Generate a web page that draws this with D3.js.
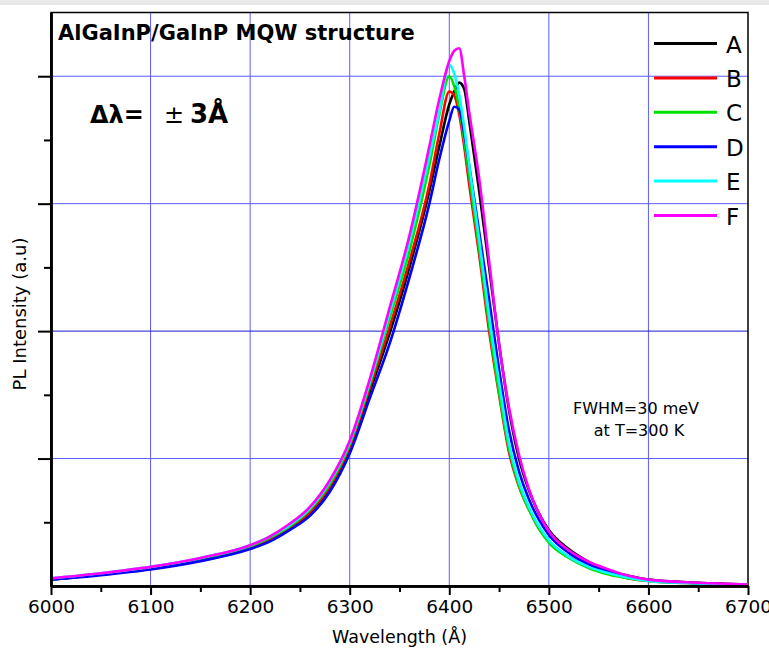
<!DOCTYPE html>
<html>
<head>
<meta charset="utf-8">
<script src="https://cdn.jsdelivr.net/npm/d3@7"></script>
<style>
  body { margin: 0; background: #fff; }
  svg { display: block; font-family: "DejaVu Sans", Verdana, sans-serif; }
</style>
</head>
<body>
<svg width="769" height="649"></svg>
<script>
// wavelength grid (Angstrom) shared by all spectra
var wavelength = [6000, 6050, 6100, 6150, 6200, 6220, 6240, 6260, 6280, 6300, 6320, 6340, 6360, 6380, 6390, 6400, 6405, 6410, 6415, 6420, 6430, 6440, 6450, 6460, 6470, 6480, 6490, 6500, 6520, 6540, 6560, 6580, 6600, 6650, 6700];

var seriesA = [0.05, 0.09, 0.135, 0.2, 0.295, 0.36, 0.45, 0.57, 0.77, 1.07, 1.52, 1.98, 2.5, 3.1, 3.45, 3.78, 3.88, 3.95, 3.9, 3.65, 3.1, 2.5, 1.9, 1.38, 1.0, 0.75, 0.57, 0.44, 0.29, 0.19, 0.12, 0.08, 0.05, 0.025, 0.012];
var seriesB = [0.055, 0.09, 0.14, 0.21, 0.30, 0.37, 0.46, 0.58, 0.78, 1.09, 1.55, 2.03, 2.55, 3.15, 3.55, 3.88, 3.85, 3.7, 3.45, 3.15, 2.6, 2.0, 1.5, 1.05, 0.78, 0.6, 0.45, 0.35, 0.23, 0.15, 0.1, 0.06, 0.04, 0.02, 0.01];
var seriesC = [0.055, 0.095, 0.14, 0.21, 0.31, 0.38, 0.47, 0.6, 0.8, 1.11, 1.58, 2.1, 2.63, 3.3, 3.7, 4.0, 3.92, 3.75, 3.5, 3.22, 2.65, 2.05, 1.52, 1.08, 0.79, 0.6, 0.45, 0.34, 0.22, 0.14, 0.09, 0.06, 0.04, 0.02, 0.01];
var seriesD = [0.05, 0.085, 0.13, 0.195, 0.29, 0.35, 0.44, 0.55, 0.74, 1.04, 1.47, 1.9, 2.42, 3.0, 3.35, 3.65, 3.76, 3.74, 3.55, 3.3, 2.78, 2.25, 1.7, 1.22, 0.9, 0.68, 0.52, 0.4, 0.26, 0.17, 0.11, 0.07, 0.045, 0.022, 0.011];
var seriesE = [0.06, 0.10, 0.15, 0.22, 0.32, 0.39, 0.48, 0.61, 0.82, 1.13, 1.6, 2.14, 2.7, 3.37, 3.72, 4.09, 4.02, 3.85, 3.6, 3.3, 2.72, 2.12, 1.6, 1.12, 0.82, 0.62, 0.47, 0.36, 0.23, 0.15, 0.1, 0.065, 0.04, 0.02, 0.01];
var seriesF = [0.06, 0.10, 0.15, 0.22, 0.32, 0.39, 0.49, 0.62, 0.83, 1.14, 1.62, 2.18, 2.75, 3.45, 3.82, 4.12, 4.2, 4.22, 4.0, 3.72, 3.2, 2.55, 1.9, 1.4, 1.03, 0.76, 0.57, 0.43, 0.28, 0.19, 0.13, 0.08, 0.05, 0.025, 0.012];

var labels = ['A', 'B', 'C', 'D', 'E', 'F'];
var colors = ['#000000', '#ff0000', '#00e000', '#0000ff', '#00ffff', '#ff00ff'];
var xTicks = [6000, 6100, 6200, 6300, 6400, 6500, 6600, 6700];

(function() {
  var series = [seriesA, seriesB, seriesC, seriesD, seriesE, seriesF].map(function(vals, i) {
    return { name: labels[i], color: colors[i], points: vals.map(function(v, j) { return [wavelength[j], v]; }) };
  });

  var svg = d3.select('svg');
  var mLeft = 51, mRight = 748, mTop = 12.5, mBottom = 586;

  var x = d3.scaleLinear().domain([6000, 6700]).range([mLeft, mRight]);
  var y = d3.scaleLinear().domain([0, 4.5]).range([mBottom, mTop]);

  // faint grey band at the very top of the scan
  svg.append('rect').attr('x', 0).attr('y', 0).attr('width', 769).attr('height', 5).attr('fill', '#e9e9e9');

  // grid
  svg.append('g').selectAll('line').data([6100, 6200, 6300, 6400, 6500, 6600]).enter().append('line')
    .attr('x1', d => x(d)).attr('x2', d => x(d)).attr('y1', mTop).attr('y2', mBottom)
    .attr('stroke', '#5c5cff').attr('stroke-width', 1);
  svg.append('g').selectAll('line').data([1, 2, 3, 4]).enter().append('line')
    .attr('x1', mLeft).attr('x2', mRight).attr('y1', d => y(d)).attr('y2', d => y(d))
    .attr('stroke', d => d === 2 ? '#1a1ad0' : '#5c5cff').attr('stroke-width', 1);

  // frame
  svg.append('rect').attr('x', mLeft).attr('y', mTop).attr('width', mRight - mLeft).attr('height', mBottom - mTop)
    .attr('fill', 'none').attr('stroke', '#000').attr('stroke-width', 1.5);

  // curves
  var line = d3.line().x(d => x(d[0])).y(d => y(d[1])).curve(d3.curveMonotoneX);
  svg.append('g').selectAll('path').data(series).enter().append('path')
    .attr('d', d => line(d.points))
    .attr('fill', 'none').attr('stroke', d => d.color).attr('stroke-width', 2.6);

  // axes
  var xAxis = svg.append('g').attr('transform', 'translate(0,' + mBottom + ')')
    .call(d3.axisBottom(x).tickValues(xTicks).tickSize(9).tickSizeOuter(0).tickPadding(5).tickFormat(d3.format('d')));
  svg.append('g').attr('transform', 'translate(0,' + mBottom + ')')
    .call(d3.axisBottom(x).tickValues(d3.range(6050, 6700, 100)).tickSize(6).tickSizeOuter(0).tickFormat(''));
  svg.append('g').attr('transform', 'translate(' + mLeft + ',0)')
    .call(d3.axisLeft(y).tickValues([1, 2, 3, 4]).tickSize(13).tickSizeOuter(0).tickFormat(''));
  svg.append('g').attr('transform', 'translate(' + mLeft + ',0)')
    .call(d3.axisLeft(y).tickValues([0.5, 1.5, 2.5, 3.5]).tickSize(7).tickSizeOuter(0).tickFormat(''));

  svg.selectAll('.domain').attr('stroke', '#000').attr('stroke-width', 2.5);
  svg.selectAll('.tick line').attr('stroke', '#000').attr('stroke-width', 2);
  xAxis.selectAll('text').attr('font-size', 18.5).attr('fill', '#000')
    .style('font-family', '"DejaVu Sans", sans-serif');

  // axis titles
  svg.append('text').attr('x', (mLeft + mRight) / 2).attr('y', 643).attr('text-anchor', 'middle')
    .attr('font-size', 17.5).text('Wavelength (Å)');
  svg.append('text').attr('transform', 'translate(26,314) rotate(-90)').attr('text-anchor', 'middle')
    .attr('font-size', 18).text('PL Intensity (a.u)');

  // annotations
  svg.append('text').attr('x', 58).attr('y', 40).attr('font-size', 21).attr('font-weight', 'bold')
    .text('AlGaInP/GaInP MQW structure');
  var dl = svg.append('text').attr('x', 90).attr('y', 123).attr('font-size', 24).attr('font-weight', 'bold');
  dl.append('tspan').text('Δλ=');
  dl.append('tspan').attr('x', 164).attr('font-weight', 'normal').text('±');
  dl.append('tspan').attr('x', 190).attr('font-size', 26).text('3Å');

  svg.append('text').attr('x', 636).attr('y', 414).attr('text-anchor', 'middle').attr('font-size', 16).text('FWHM=30 meV');
  svg.append('text').attr('x', 639).attr('y', 436).attr('text-anchor', 'middle').attr('font-size', 16).text('at T=300 K');

  // legend
  var legend = svg.append('g').selectAll('g').data(series).enter().append('g')
    .attr('transform', (d, i) => 'translate(654,' + (43.5 + i * 34.4) + ')');
  legend.append('line').attr('x1', 0).attr('x2', 63).attr('stroke', d => d.color).attr('stroke-width', 3);
  legend.append('text').attr('x', 72).attr('y', 9).attr('font-size', 23).text(d => d.name);
})();
</script>
</body>
</html>
